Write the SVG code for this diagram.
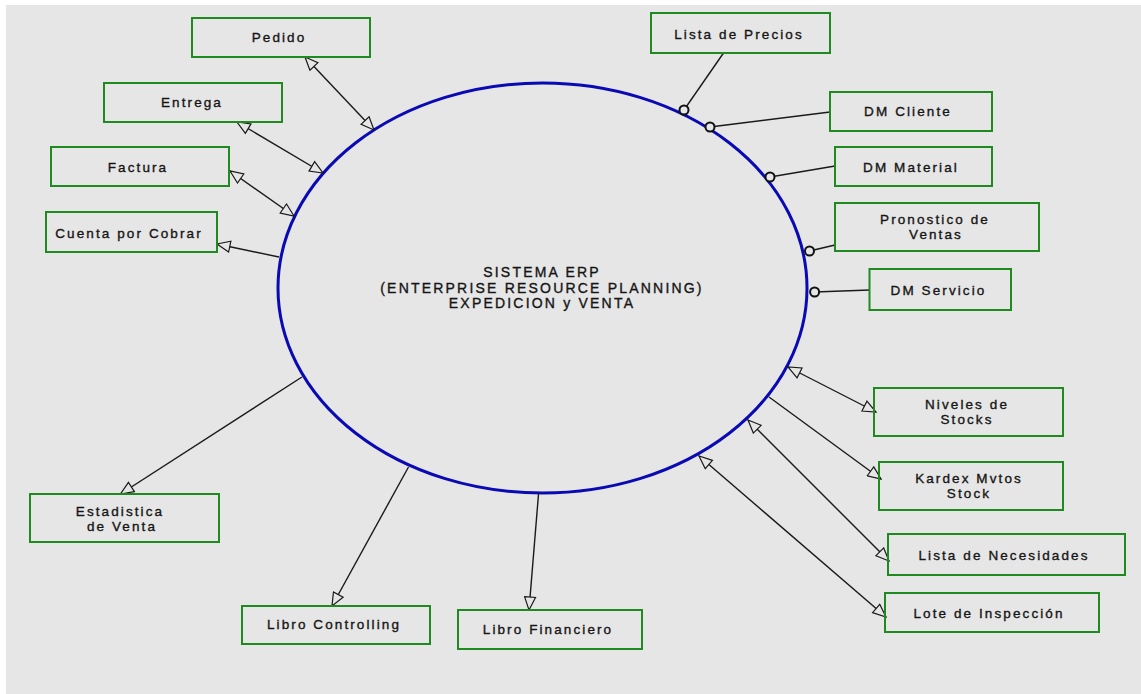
<svg xmlns="http://www.w3.org/2000/svg" width="1141" height="694" viewBox="0 0 1141 694">
  <style>
    .box rect { fill: none; stroke: #1f8a1f; stroke-width: 2; }
    .box text, .core text { font-family: "Liberation Sans", Arial, sans-serif; font-size: 13.5px; letter-spacing: 2.1px; fill: #151515; stroke: #151515; stroke-width: 0.35; text-anchor: middle; }
    .core text { font-size: 14px; letter-spacing: 2.2px; }
    .link { stroke: #1a1a1a; stroke-width: 1.4; fill: none; }
    .arr { marker-end: url(#head); }
    .both { marker-start: url(#head); marker-end: url(#head); }
    .plug { fill: #e6e6e6; stroke: #111; stroke-width: 2; }
  </style>
  <defs>
    <marker id="head" viewBox="0 0 15 13" refX="14" refY="6.5" markerWidth="15" markerHeight="13" markerUnits="userSpaceOnUse" orient="auto-start-reverse">
      <path d="M1,1 L14,6.5 L1,12 Z" fill="#e6e6e6" stroke="#1a1a1a" stroke-width="1.2" stroke-linejoin="miter"/>
    </marker>
  </defs>

  <!-- canvas -->
  <rect x="0" y="0" width="1141" height="694" fill="#ffffff"/>
  <rect x="6" y="5" width="1135" height="689" fill="#e6e6e6"/>

  <!-- central system -->
  <g id="sistema-erp" class="core">
    <ellipse cx="542.5" cy="288" rx="264.5" ry="205" fill="none" stroke="#0a0ab4" stroke-width="3"/>
    <text x="542" y="277">SISTEMA ERP</text>
    <text x="542" y="293">(ENTERPRISE RESOURCE PLANNING)</text>
    <text x="542" y="308">EXPEDICION y VENTA</text>
  </g>

  <!-- connectors -->
  <g id="connectors">
    <line class="link both" x1="305" y1="57" x2="374" y2="130"/>
    <line class="link both" x1="237" y1="122" x2="323" y2="173"/>
    <line class="link both" x1="230" y1="171" x2="294" y2="216"/>
    <line class="link arr" x1="279" y1="257" x2="217" y2="244"/>
    <line class="link arr" x1="302" y1="377" x2="120.5" y2="494"/>
    <line class="link arr" x1="408.5" y1="467" x2="332" y2="606"/>
    <line class="link arr" x1="538.6" y1="493" x2="529" y2="610"/>
    <line class="link both" x1="788" y1="367" x2="876" y2="412"/>
    <line class="link arr" x1="769" y1="397" x2="881" y2="479"/>
    <line class="link both" x1="748" y1="420" x2="889" y2="561"/>
    <line class="link both" x1="699" y1="456" x2="886" y2="617"/>

    <line class="link" x1="723.5" y1="53" x2="684" y2="110"/>
    <line class="link" x1="830" y1="112" x2="710" y2="127"/>
    <line class="link" x1="835" y1="166" x2="770" y2="177"/>
    <line class="link" x1="835" y1="245" x2="809.5" y2="251"/>
    <line class="link" x1="869.5" y1="290" x2="814.6" y2="292"/>
    <circle class="plug" cx="684" cy="110" r="4.5"/>
    <circle class="plug" cx="710" cy="127" r="4.5"/>
    <circle class="plug" cx="770" cy="177" r="4.5"/>
    <circle class="plug" cx="809.5" cy="251" r="4.5"/>
    <circle class="plug" cx="814.6" cy="292" r="4.5"/>
  </g>

  <!-- data objects -->
  <g id="pedido" class="box">
    <rect x="192" y="18" width="178" height="39"/>
    <text x="279" y="42">Pedido</text>
  </g>
  <g id="entrega" class="box">
    <rect x="104" y="83" width="178" height="39"/>
    <text x="192" y="107">Entrega</text>
  </g>
  <g id="factura" class="box">
    <rect x="51" y="147" width="178" height="39"/>
    <text x="138" y="172">Factura</text>
  </g>
  <g id="cuenta-por-cobrar" class="box">
    <rect x="46" y="212" width="171" height="40"/>
    <text x="129" y="238">Cuenta por Cobrar</text>
  </g>
  <g id="estadistica-venta" class="box">
    <rect x="30" y="494" width="189" height="48"/>
    <text x="120" y="516">Estadistica</text>
    <text x="122" y="531">de Venta</text>
  </g>
  <g id="libro-controlling" class="box">
    <rect x="242" y="606" width="188" height="38"/>
    <text x="334" y="629">Libro Controlling</text>
  </g>
  <g id="libro-financiero" class="box">
    <rect x="458" y="610" width="184" height="39"/>
    <text x="548" y="634">Libro Financiero</text>
  </g>
  <g id="lista-precios" class="box">
    <rect x="651" y="13" width="179" height="40"/>
    <text x="739" y="39">Lista de Precios</text>
  </g>
  <g id="dm-cliente" class="box">
    <rect x="830" y="92" width="162" height="39"/>
    <text x="908" y="116">DM Cliente</text>
  </g>
  <g id="dm-material" class="box">
    <rect x="835" y="147" width="157" height="39"/>
    <text x="911" y="172">DM Material</text>
  </g>
  <g id="pronostico-ventas" class="box">
    <rect x="835" y="203" width="204" height="48"/>
    <text x="935" y="224">Pronostico de</text>
    <text x="936" y="239">Ventas</text>
  </g>
  <g id="dm-servicio" class="box">
    <rect x="869.5" y="269" width="141.5" height="41"/>
    <text x="938.5" y="295">DM Servicio</text>
  </g>
  <g id="niveles-stocks" class="box">
    <rect x="874" y="388" width="189" height="48"/>
    <text x="967" y="409">Niveles de</text>
    <text x="967" y="424">Stocks</text>
  </g>
  <g id="kardex-mvtos" class="box">
    <rect x="879" y="462" width="184" height="48"/>
    <text x="969" y="483">Kardex Mvtos</text>
    <text x="969" y="498">Stock</text>
  </g>
  <g id="lista-necesidades" class="box">
    <rect x="888" y="534" width="237" height="41"/>
    <text x="1004" y="560">Lista de Necesidades</text>
  </g>
  <g id="lote-inspeccion" class="box">
    <rect x="885" y="593" width="214" height="39"/>
    <text x="989" y="618">Lote de Inspección</text>
  </g>
</svg>
